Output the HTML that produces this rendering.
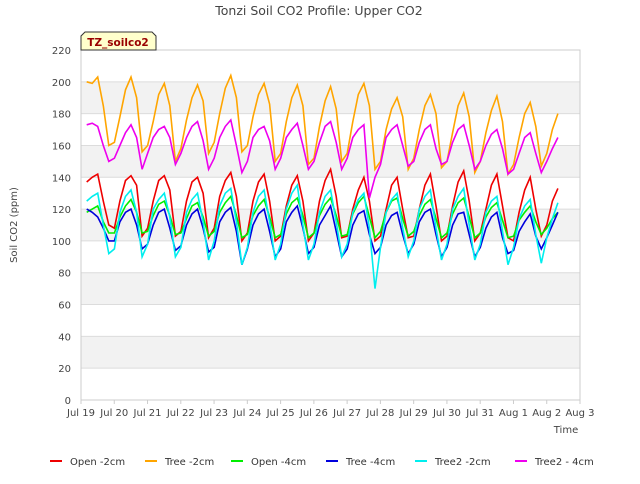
<!DOCTYPE html>
<html><head><meta charset="utf-8"><style>
body{margin:0;background:#fff;font-family:"DejaVu Sans","Liberation Sans",sans-serif}
svg text{font-family:"DejaVu Sans","Liberation Sans",sans-serif}
</style></head><body>
<svg id="c" width="640" height="480" xmlns="http://www.w3.org/2000/svg">
<text x="319" y="15" text-anchor="middle" font-size="12.5" fill="#444">Tonzi Soil CO2 Profile: Upper CO2</text>
<g id="bands"></g><g id="grid"></g><g id="axes"></g><g id="series"></g>
<text transform="translate(17,225) rotate(-90)" text-anchor="middle" font-size="10" fill="#444">Soil CO2 (ppm)</text>
<text x="566" y="433" text-anchor="middle" font-size="10" fill="#444">Time</text>
<g><path d="M81,50 L81,36 L85,32 L152,32 L156,36 L156,50 Z" fill="#ffffcc" stroke="#333"/>
<text x="118" y="46" text-anchor="middle" font-size="10.5" font-weight="bold" fill="#990000">TZ_soilco2</text></g>
<g id="legend"></g>
</svg>
<script>
const yTicks=[0,20,40,60,80,100,120,140,160,180,200,220];
const xTickLabels=["Jul 19","Jul 20","Jul 21","Jul 22","Jul 23","Jul 24","Jul 25","Jul 26","Jul 27","Jul 28","Jul 29","Jul 30","Jul 31","Aug 1","Aug 2","Aug 3"];
const seriesNames=["Open -2cm","Tree -2cm","Open -4cm","Tree -4cm","Tree2 -2cm","Tree2 - 4cm"];
const seriesColors=["#ee0000","#ffa500","#00ee00","#0000dd","#00eeee","#ee00ee"];
const tStart=19.17, tStep=1/6;
const open2=[137,140,142,125,110,108,125,138,141,135,103,108,125,138,141,132,103,106,125,137,140,130,102,108,128,138,143,128,100,105,125,137,142,125,100,103,122,135,141,125,100,105,125,138,145,128,102,103,120,132,140,125,100,103,120,135,140,120,102,103,120,135,142,122,100,103,122,137,144,125,100,105,120,135,142,122,102,100,118,132,140,120,103,110,125,133];
const tree2=[200,199,203,185,160,162,178,195,203,190,156,160,175,192,199,185,150,158,176,190,198,188,155,162,180,196,204,190,156,160,178,192,199,186,150,155,175,190,198,185,148,152,172,188,197,183,150,155,175,192,199,185,145,150,170,183,190,178,145,152,170,185,192,180,146,150,168,185,193,178,143,150,168,182,191,175,142,148,165,180,187,172,147,155,170,180];
const open4=[118,120,122,112,105,105,115,122,126,118,105,106,116,123,125,116,104,105,114,122,124,115,103,106,118,124,128,116,102,104,116,122,126,115,102,104,117,124,127,116,102,105,116,123,127,116,103,104,117,124,128,115,102,106,118,125,127,114,103,106,116,123,126,114,102,105,117,124,127,115,102,105,115,121,124,113,102,103,113,118,122,112,104,108,114,118];
const tree4=[120,118,115,108,100,100,112,118,120,110,95,98,110,118,120,108,94,97,110,117,120,108,93,96,112,118,121,106,85,95,110,117,120,106,90,95,112,118,122,108,92,96,110,116,122,106,90,95,110,117,119,104,92,96,110,116,118,104,92,98,112,118,120,104,90,96,110,117,118,104,90,96,108,115,118,102,92,94,106,112,117,103,95,102,110,118];
const tree2_2=[125,128,130,110,92,95,118,128,132,118,90,98,120,126,130,115,90,96,118,126,130,112,88,100,122,130,133,112,85,96,118,128,132,112,88,98,120,130,135,110,88,98,118,128,132,112,90,98,118,126,130,108,70,96,118,126,130,108,90,100,120,128,132,108,88,98,120,128,133,110,88,98,118,125,128,106,85,96,114,122,126,104,86,102,114,124];
const tree2_4=[173,174,172,160,150,152,160,168,173,165,145,155,165,170,172,165,148,155,165,172,175,163,145,152,165,172,176,160,143,150,165,170,172,163,145,152,165,170,174,160,145,150,162,172,175,162,145,152,165,170,173,127,140,148,165,170,173,160,147,150,162,170,173,158,148,150,162,170,173,160,145,150,160,167,170,158,142,145,155,165,168,155,143,150,158,165];
const allSeries=[open2,tree2,open4,tree4,tree2_2,tree2_4];
const NS="http://www.w3.org/2000/svg";
const X0=81,X1=580,Y0=400,Y1=50;
function xs(d){return X0+(d-19)*(X1-X0)/15;}
function ys(v){return Y0-v*(Y0-Y1)/220;}
function mk(t,a,p){const e=document.createElementNS(NS,t);for(const k in a)e.setAttribute(k,a[k]);p.appendChild(e);return e;}
const bands=document.getElementById('bands'),grid=document.getElementById('grid'),axes=document.getElementById('axes');
for(let i=0;i<yTicks.length-1;i++){if(i%2===1){const r=mk('rect',{x:X0,y:ys(yTicks[i+1]),width:X1-X0,height:ys(yTicks[i])-ys(yTicks[i+1]),fill:'#f2f2f2'},bands);

}}
yTicks.forEach(v=>{const l=mk('line',{x1:X0,x2:X1,y1:ys(v),y2:ys(v),stroke:'#dcdcdc'},grid);


const t=mk('text',{x:X0-10,y:ys(v)+4,'text-anchor':'end','font-size':10,fill:'#444'},axes);t.textContent=v;

});
mk('rect',{x:X0,y:Y1,width:X1-X0,height:Y0-Y1,fill:'none',stroke:'#ccc'},axes);
xTickLabels.forEach((s,i)=>{const x=xs(19+i);mk('line',{x1:x,x2:x,y1:Y0,y2:Y0+4,stroke:'#ccc'},axes);
const t=mk('text',{x:x,y:Y0+16,'text-anchor':'middle','font-size':10,fill:'#444'},axes);t.textContent=s;

});
const sg=document.getElementById('series');
allSeries.forEach((arr,k)=>{const pts=arr.map((v,i)=>xs(tStart+i*tStep).toFixed(1)+','+ys(v).toFixed(1)).join(' ');
const p=mk('polyline',{points:pts,fill:'none',stroke:seriesColors[k],'stroke-width':1.6},sg);

});
const lg=document.getElementById('legend');const lx=[50,145,231,326,415,515];
seriesNames.forEach((n,k)=>{const g=mk('g',{},lg);


mk('line',{x1:lx[k],x2:lx[k]+12,y1:461,y2:461,stroke:seriesColors[k],'stroke-width':2},g);
const t=mk('text',{x:lx[k]+20,y:465,'font-size':10,fill:'#333'},g);t.textContent=n;});
</script>
</body></html>
